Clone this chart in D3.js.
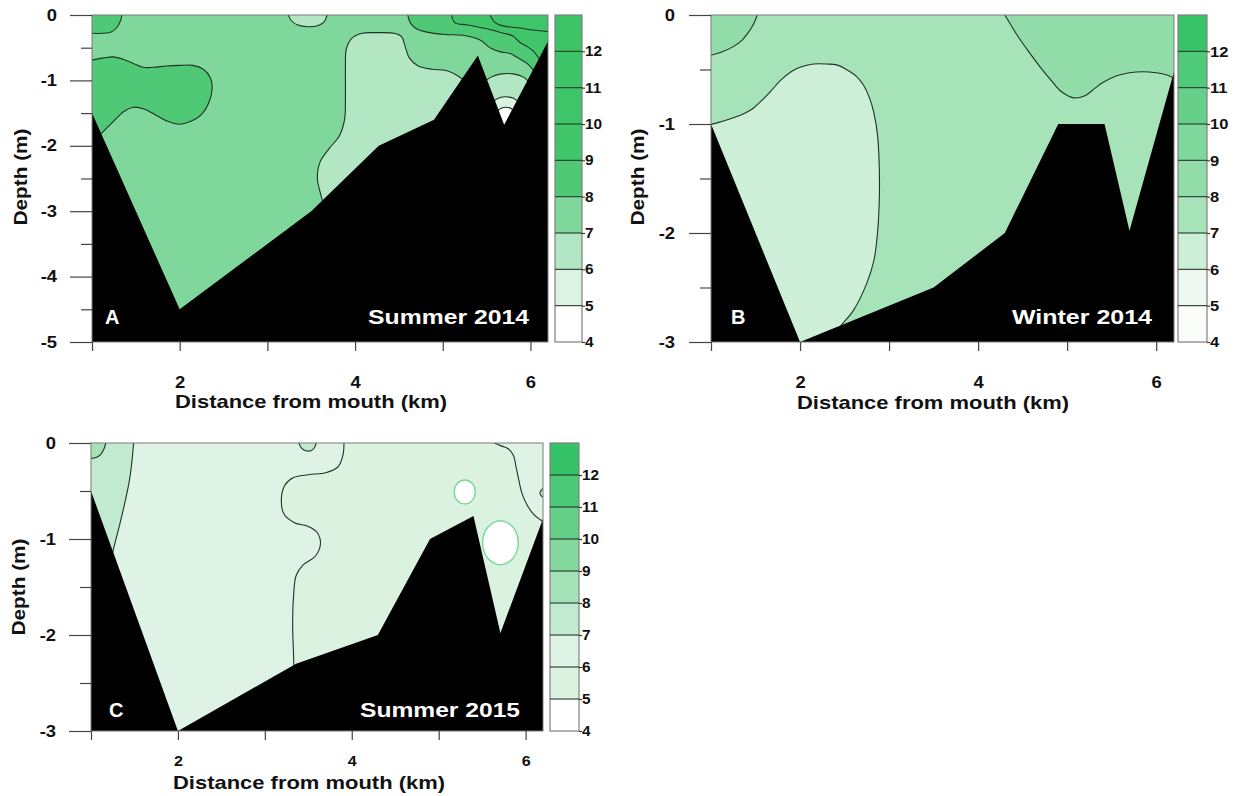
<!DOCTYPE html>
<html>
<head>
<meta charset="utf-8">
<script src="https://cdn.jsdelivr.net/npm/d3@7"></script>
<style>
  body { margin: 0; background: #fff; }
  text { font-family: "Liberation Sans", Arial, sans-serif; font-weight: bold; }
</style>
</head>
<body>
<svg id="fig" width="1238" height="796"></svg>
<script>
// ---------- shared scales / legend values ----------
const kmDomain = [1, 6.2];
const bandEdges = [4, 5, 6, 7, 8, 9, 10, 11, 12, 13];
const legendTicks = [4, 5, 6, 7, 8, 9, 10, 11, 12];
const kmTicks = [1, 2, 3, 4, 5, 6];
const depthTicks5 = [0, -1, -2, -3, -4, -5];
const depthMinor5 = [-0.5, -1.5, -2.5, -3.5, -4.5];
const depthTicks3 = [0, -1, -2, -3];
const depthMinor3 = [-0.5, -1.5, -2.5];

// colour of each 1-unit band, 4-5 ... 12-13
const greensA = ['#ffffff', '#dcf2e2', '#b3e7c3', '#7fd79b', '#4fc976', '#41c56b', '#3fc569', '#3dc468', '#3bc366'];
const greensB = ['#fbfdfb', '#eef8f1', '#cdeed7', '#a7e3b9', '#92dcaa', '#7ed79b', '#66d08a', '#4fca79', '#37c468'];
const greensC = ['#ffffff', '#dbf2e1', '#def3e5', '#c2ead0', '#a6e2b8', '#84d89e', '#63cf87', '#4cc977', '#36c367'];

// ---------- A: Summer 2014 (distance km, depth m) ----------
const bedA = [[1, -1.5], [2, -4.5], [3.5, -3.0], [4.27, -2.0], [4.9, -1.6], [5.4, -0.62], [5.7, -1.68], [6.2, -0.4]];
const a_corner = [[1.0, -0.28], [1.12, -0.28], [1.22, -0.26], [1.29, -0.18], [1.33, -0.07], [1.34, 0]];
const a_patch = [[1.0, -0.69], [1.12, -0.66], [1.24, -0.64], [1.36, -0.68], [1.47, -0.74], [1.58, -0.8], [1.7, -0.8],
  [1.85, -0.78], [2.0, -0.77], [2.15, -0.77], [2.27, -0.83], [2.35, -0.96], [2.37, -1.12], [2.33, -1.35], [2.25, -1.52],
  [2.12, -1.63], [2.0, -1.67], [1.87, -1.63], [1.74, -1.54], [1.6, -1.44], [1.47, -1.41], [1.36, -1.48], [1.25, -1.62],
  [1.13, -1.78], [1.02, -1.92]];
const a_plume = [[3.63, -2.85], [3.6, -2.7], [3.57, -2.5], [3.6, -2.25], [3.7, -2.05], [3.82, -1.85], [3.88, -1.6],
  [3.89, -1.2], [3.89, -0.8], [3.9, -0.52], [3.96, -0.36], [4.08, -0.28], [4.25, -0.27], [4.45, -0.28], [4.53, -0.33],
  [4.57, -0.48], [4.62, -0.66], [4.72, -0.78], [4.88, -0.83], [5.04, -0.85], [5.17, -0.93], [5.25, -1.02], [5.3, -1.15]];
const a_bump = [[3.24, 0], [3.27, -0.08], [3.34, -0.15], [3.46, -0.18], [3.58, -0.16], [3.65, -0.1], [3.68, 0]];
const a_iso8 = [[4.6, 0], [4.63, -0.12], [4.7, -0.21], [4.85, -0.27], [5.05, -0.3], [5.23, -0.31], [5.42, -0.38],
  [5.55, -0.51], [5.65, -0.56], [5.77, -0.59], [5.85, -0.65], [5.96, -0.74], [6.03, -0.84], [6.07, -0.95]];
const a_iso9 = [[5.1, 0], [5.14, -0.12], [5.27, -0.15], [5.42, -0.19], [5.56, -0.23], [5.69, -0.28], [5.8, -0.32],
  [5.88, -0.42], [5.96, -0.48], [6.03, -0.55], [6.09, -0.65], [6.13, -0.75]];
const a_iso10 = [[5.54, 0], [5.6, -0.12], [5.7, -0.17], [5.88, -0.2], [6.03, -0.23], [6.25, -0.26]];
const a_notch7 = [[5.45, -1.05], [5.55, -0.95], [5.67, -0.9], [5.8, -0.9], [5.92, -0.95], [6.0, -1.05]];
const a_notch6 = [[5.55, -1.35], [5.62, -1.28], [5.71, -1.25], [5.8, -1.27], [5.88, -1.35]];
const a_notch5 = [[5.6, -1.5], [5.66, -1.43], [5.72, -1.41], [5.78, -1.43], [5.82, -1.5]];

// ---------- B: Winter 2014 ----------
const bedB = [[1, -1.0], [2, -3.0], [3.5, -2.5], [4.3, -2.0], [4.9, -1.0], [5.42, -1.0], [5.7, -1.98], [6.2, -0.52]];
const b_corner = [[1.0, -0.37], [1.12, -0.34], [1.25, -0.29], [1.35, -0.23], [1.42, -0.16], [1.48, -0.08], [1.52, 0]];
const b_lens = [[0.97, -1.01], [1.15, -0.97], [1.33, -0.92], [1.45, -0.87], [1.55, -0.8], [1.67, -0.7], [1.78, -0.6],
  [1.9, -0.52], [2.0, -0.48], [2.15, -0.45], [2.3, -0.45], [2.42, -0.46], [2.52, -0.5], [2.63, -0.56], [2.71, -0.64],
  [2.78, -0.76], [2.83, -0.9], [2.87, -1.1], [2.89, -1.4], [2.89, -1.7], [2.87, -2.0], [2.83, -2.25], [2.75, -2.46],
  [2.6, -2.71], [2.45, -2.86], [2.38, -2.95]];
const b_seaward = [[4.3, 0], [4.36, -0.08], [4.45, -0.2], [4.58, -0.35], [4.7, -0.48], [4.82, -0.6], [4.93, -0.7],
  [5.07, -0.76], [5.2, -0.74], [5.3, -0.68], [5.4, -0.62], [5.55, -0.56], [5.7, -0.53], [5.85, -0.52], [6.0, -0.53],
  [6.12, -0.55], [6.25, -0.6]];

// ---------- C: Summer 2015 ----------
const bedC = [[1, -0.5], [2, -3.0], [3.36, -2.3], [4.3, -2.0], [4.9, -1.0], [5.4, -0.76], [5.71, -1.98], [6.2, -0.79]];
const c_corner = [[1.0, -0.16], [1.06, -0.15], [1.11, -0.12], [1.15, -0.06], [1.17, 0]];
const c_strip = [[1.49, 0], [1.47, -0.2], [1.44, -0.4], [1.39, -0.62], [1.33, -0.85], [1.26, -1.1], [1.2, -1.35]];
const c_divide = [[3.91, 0], [3.9, -0.12], [3.84, -0.25], [3.7, -0.31], [3.5, -0.33], [3.33, -0.36], [3.23, -0.44],
  [3.19, -0.58], [3.22, -0.74], [3.34, -0.83], [3.5, -0.87], [3.6, -0.93], [3.64, -1.05], [3.58, -1.18], [3.44, -1.27],
  [3.36, -1.38], [3.33, -1.6], [3.32, -1.9], [3.33, -2.2], [3.34, -2.5]];
const c_bump = [[3.39, 0], [3.42, -0.05], [3.47, -0.08], [3.53, -0.08], [3.57, -0.05], [3.59, 0]];
const c_seaward = [[5.64, 0], [5.72, -0.03], [5.8, -0.06], [5.86, -0.13], [5.89, -0.25], [5.92, -0.38], [5.96, -0.53],
  [6.02, -0.65], [6.09, -0.74], [6.17, -0.8], [6.25, -0.85]];
const c_nick = [[6.21, -0.47], [6.18, -0.49], [6.165, -0.52], [6.18, -0.55], [6.21, -0.57]];
const c_pocket1 = [[5.3, -0.385], [5.385, -0.42], [5.42, -0.51], [5.385, -0.6], [5.3, -0.635], [5.215, -0.6], [5.18, -0.51], [5.215, -0.42]];
const c_pocket2 = [[5.71, -0.81], [5.855, -0.877], [5.915, -1.04], [5.855, -1.2], [5.71, -1.27], [5.565, -1.2], [5.505, -1.04], [5.565, -0.877]];

// ---------- panel definitions ----------
const panels = [
  {
    key: 'A', label: 'A', season: 'Summer 2014', palette: greensA, water: 7,
    left: 92, right: 548, top: 15, bottom: 342, depthMin: -5,
    depthTicks: depthTicks5, depthMinor: depthMinor5, bed: bedA,
    regions: [
      { band: 8, pts: a_corner, close: [[1.34, 0.1], [0.9, 0.1], [0.9, -0.28]] },
      { band: 8, pts: a_patch, close: [[0.9, -1.92], [0.9, -0.69]] },
      { band: 6, pts: a_plume, close: [[5.3, -2.6], [3.6, -3.1]] },
      { band: 6, pts: a_bump, close: [[3.68, 0.1], [3.24, 0.1]] },
      { band: 8, pts: a_iso8, close: [[6.3, -0.95], [6.3, 0.1], [4.6, 0.1]] },
      { band: 9, pts: a_iso9, close: [[6.3, -0.75], [6.3, 0.1], [5.1, 0.1]] },
      { band: 10, pts: a_iso10, close: [[6.3, -0.26], [6.3, 0.1], [5.54, 0.1]] },
      { band: 6, pts: a_notch7, close: [[6.05, -2.0], [5.4, -2.0]] },
      { band: 5, pts: a_notch6, close: [[6.0, -2.0], [5.45, -2.0]] },
      { band: 4, pts: a_notch5, close: [[5.95, -2.0], [5.5, -2.0]] }
    ],
    pockets: [],
    cbLeft: 555, cbRight: 582, cbFont: 14, tickFont: 16,
    yLabelRight: 57, xLabelTop: 377, xTitle: [311, 408], yTitle: [21, 177],
    letterX: 105, seasonX: 368, seasonW: 161, textBase: 324
  },
  {
    key: 'B', label: 'B', season: 'Winter 2014', palette: greensB, water: 7,
    left: 711, right: 1174, top: 15, bottom: 342, depthMin: -3,
    depthTicks: depthTicks3, depthMinor: depthMinor3, bed: bedB,
    regions: [
      { band: 8, pts: b_corner, close: [[1.52, 0.1], [0.9, 0.1], [0.9, -0.37]] },
      { band: 6, pts: b_lens, close: [[2.3, -3.2], [0.9, -3.2], [0.9, -1.01]] },
      { band: 8, pts: b_seaward, close: [[6.3, -0.6], [6.3, 0.1], [4.3, 0.1]] }
    ],
    pockets: [],
    cbLeft: 1178, cbRight: 1207, cbFont: 15, tickFont: 16,
    yLabelRight: 675, xLabelTop: 377, xTitle: [933, 409], yTitle: [638, 177],
    letterX: 731, seasonX: 1012, seasonW: 140, textBase: 324
  },
  {
    key: 'C', label: 'C', season: 'Summer 2015', palette: greensC, water: 6,
    left: 91, right: 543, top: 443, bottom: 731, depthMin: -3,
    depthTicks: depthTicks3, depthMinor: depthMinor3, bed: bedC,
    regions: [
      { band: 5, pts: c_divide, close: [[6.3, -2.5], [6.3, 0.1], [3.91, 0.1]] },
      { band: 6, pts: c_seaward, close: [[6.3, -0.85], [6.3, 0.1], [5.64, 0.1]] },
      { band: 7, pts: c_nick, close: [] },
      { band: 7, pts: c_strip, close: [[0.9, -1.35], [0.9, 0.1], [1.49, 0.1]] },
      { band: 8, pts: c_corner, close: [[1.17, 0.1], [0.9, 0.1], [0.9, -0.16]] },
      { band: 7, pts: c_bump, close: [[3.59, 0.1], [3.39, 0.1]] }
    ],
    pockets: [c_pocket1, c_pocket2],
    cbLeft: 550, cbRight: 579, cbFont: 14, tickFont: 14,
    yLabelRight: 56, xLabelTop: 756, xTitle: [309, 789], yTitle: [19, 587],
    letterX: 109, seasonX: 360, seasonW: 160, textBase: 717
  }
];

const svg = d3.select('#fig');
const defs = svg.append('defs');
const isoStroke = '#1e3325';

// stretch axis text horizontally (the figure's lettering is wide)
function widen(sel, sx) {
  sel.each(function () {
    const t = d3.select(this);
    const x0 = +t.attr('x') || 0;
    t.attr('x', x0 / sx).attr('transform', `scale(${sx},1)`);
  });
}

panels.forEach(p => {
  const x = d3.scaleLinear().domain(kmDomain).range([p.left, p.right]);
  const y = d3.scaleLinear().domain([0, p.depthMin]).range([p.top, p.bottom]);
  const color = d3.scaleThreshold().domain(bandEdges.slice(1, -1)).range(p.palette);
  const fillOf = band => color(band + 0.5);

  defs.append('clipPath').attr('id', 'clip' + p.key)
    .append('rect').attr('x', p.left).attr('y', p.top)
    .attr('width', p.right - p.left).attr('height', p.bottom - p.top);

  const plot = svg.append('g').attr('clip-path', `url(#clip${p.key})`);
  plot.append('rect').attr('x', p.left).attr('y', p.top)
    .attr('width', p.right - p.left).attr('height', p.bottom - p.top)
    .attr('fill', fillOf(p.water));

  const iso = d3.line().x(d => x(d[0])).y(d => y(d[1])).curve(d3.curveCatmullRom.alpha(0.5));
  const loop = d3.line().x(d => x(d[0])).y(d => y(d[1])).curve(d3.curveCatmullRomClosed.alpha(0.5));

  // filled bands
  p.regions.forEach(r => {
    const tail = r.close.map(c => `L${x(c[0])},${y(c[1])}`).join('');
    plot.append('path').attr('d', iso(r.pts) + tail + 'Z').attr('fill', fillOf(r.band));
  });
  // contour lines
  p.regions.forEach(r => {
    plot.append('path').attr('d', iso(r.pts)).attr('fill', 'none')
      .attr('stroke', isoStroke).attr('stroke-width', 1.1);
  });
  // closed low-value pockets
  p.pockets.forEach(pts => {
    plot.append('path').attr('d', loop(pts)).attr('fill', fillOf(4))
      .attr('stroke', '#74d995').attr('stroke-width', 1.4);
  });

  // river bed
  const bed = d3.area().x(d => x(d[0])).y0(p.bottom + 2).y1(d => y(d[1])).curve(d3.curveLinear);
  plot.append('path').datum(p.bed).attr('d', bed).attr('fill', '#000');

  // frame
  svg.append('rect').attr('x', p.left).attr('y', p.top)
    .attr('width', p.right - p.left).attr('height', p.bottom - p.top)
    .attr('fill', 'none').attr('stroke', '#7a7a7a').attr('stroke-width', 1);

  // depth axis
  const yMajor = svg.append('g').attr('transform', `translate(${p.left},0)`)
    .call(d3.axisLeft(y).tickValues(p.depthTicks).tickSize(22)
      .tickPadding(p.left - 22 - p.yLabelRight).tickFormat(d => String(d)));
  const yMinorAx = svg.append('g').attr('transform', `translate(${p.left},0)`)
    .call(d3.axisLeft(y).tickValues(p.depthMinor).tickSize(11).tickFormat(() => ''));
  [yMajor, yMinorAx].forEach(g => {
    g.select('.domain').remove();
    g.selectAll('line').attr('stroke', '#444').attr('stroke-width', 1.2);
  });
  yMajor.selectAll('text').attr('font-size', 16).attr('fill', '#111');
  widen(yMajor.selectAll('text'), 1.15);

  // distance axis
  const xAx = svg.append('g').attr('transform', `translate(0,${p.bottom})`)
    .call(d3.axisBottom(x).tickValues(kmTicks).tickSize(9)
      .tickPadding(p.xLabelTop - p.bottom - 9).tickFormat(d => (d % 2 === 0 ? String(d) : '')));
  xAx.select('.domain').remove();
  xAx.selectAll('line').attr('stroke', '#444').attr('stroke-width', 1.2);
  xAx.selectAll('text').attr('font-size', p.tickFont).attr('fill', '#111');
  widen(xAx.selectAll('text'), 1.15);

  // axis titles
  svg.append('text').attr('x', p.xTitle[0]).attr('y', p.xTitle[1])
    .attr('text-anchor', 'middle').attr('font-size', 19).attr('fill', '#111')
    .attr('textLength', 272).attr('lengthAdjust', 'spacingAndGlyphs')
    .text('Distance from mouth (km)');
  svg.append('text')
    .attr('transform', `translate(${p.yTitle[0]},${p.yTitle[1]}) rotate(-90)`)
    .attr('text-anchor', 'middle').attr('dy', '0.35em').attr('font-size', 18).attr('fill', '#111')
    .attr('textLength', 97).attr('lengthAdjust', 'spacingAndGlyphs')
    .text('Depth (m)');

  // panel letter and season
  svg.append('text').attr('x', p.letterX).attr('y', p.textBase)
    .attr('font-size', 20).attr('fill', '#fff').text(p.label);
  svg.append('text').attr('x', p.seasonX).attr('y', p.textBase)
    .attr('font-size', 20).attr('fill', '#fff')
    .attr('textLength', p.seasonW).attr('lengthAdjust', 'spacingAndGlyphs')
    .text(p.season);

  // colour bar
  const cy = d3.scaleLinear().domain([4, 13]).range([p.bottom, p.top]);
  const cb = svg.append('g');
  cb.selectAll('rect.band').data(d3.range(bandEdges.length - 1)).join('rect')
    .attr('class', 'band')
    .attr('x', p.cbLeft).attr('width', p.cbRight - p.cbLeft)
    .attr('y', i => cy(bandEdges[i + 1])).attr('height', i => cy(bandEdges[i]) - cy(bandEdges[i + 1]))
    .attr('fill', i => p.palette[i]);
  cb.append('rect').attr('x', p.cbLeft).attr('y', p.top)
    .attr('width', p.cbRight - p.cbLeft).attr('height', p.bottom - p.top)
    .attr('fill', 'none').attr('stroke', '#808080').attr('stroke-width', 1.2);
  cb.selectAll('line.sep').data(bandEdges.slice(1, -1)).join('line')
    .attr('class', 'sep')
    .attr('x1', p.cbLeft).attr('x2', p.cbRight)
    .attr('y1', d => cy(d)).attr('y2', d => cy(d))
    .attr('stroke', '#26362b').attr('stroke-width', 1.1);
  const cAx = svg.append('g').attr('transform', `translate(${p.cbRight},0)`)
    .call(d3.axisRight(cy).tickValues(legendTicks).tickSize(3).tickPadding(0).tickFormat(d => String(d)));
  cAx.select('.domain').remove();
  cAx.selectAll('line').attr('stroke', '#26362b').attr('stroke-width', 1.1);
  cAx.selectAll('text').attr('font-size', p.cbFont).attr('fill', '#111');
  widen(cAx.selectAll('text'), 1.1);
});
</script>
</body>
</html>
